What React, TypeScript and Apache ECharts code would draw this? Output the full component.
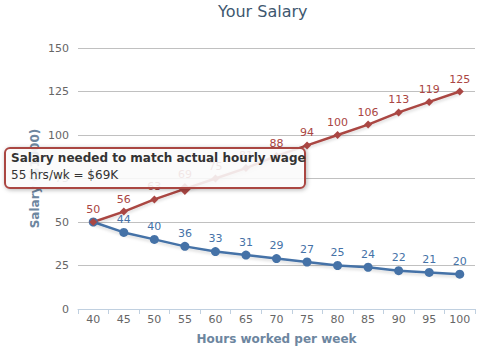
import React, { useEffect, useRef } from "react";
import * as echarts from "echarts";

const hours = ["40", "45", "50", "55", "60", "65", "70", "75", "80", "85", "90", "95", "100"];
const neededSalary = [50, 56, 63, 69, 75, 81, 88, 94, 100, 106, 113, 119, 125];
const actualSalary = [50, 44, 40, 36, 33, 31, 29, 27, 25, 24, 22, 21, 20];
const hoverIndex = 3;
const tooltipTitle = "Salary needed to match actual hourly wage";
const tooltipLine = `${hours[hoverIndex]} hrs/wk = $${neededSalary[hoverIndex]}K`;

const FONT = "DejaVu Sans";
const RED = "#AA4643";
const BLUE = "#4572A7";

export default function App() {
  const ref = useRef<HTMLDivElement>(null);
  useEffect(() => {
    if (!ref.current) return;
    document.body.style.margin = "0";
    const chart = echarts.init(ref.current, undefined, { renderer: "svg" });
    const labelBase = { show: true, position: "top", distance: 3, fontFamily: FONT, fontSize: 11 };
    chart.setOption({
      animation: false,
      backgroundColor: "#fff",
      title: {
        text: "Your Salary",
        left: 218,
        top: 3,
        padding: 0,
        textStyle: { color: "#3E576F", fontFamily: FONT, fontSize: 16, fontWeight: "normal" },
      },
      grid: { left: 78, right: 15, top: 48, bottom: 42, containLabel: false },
      xAxis: {
        type: "category",
        data: hours,
        boundaryGap: true,
        axisLine: { lineStyle: { color: "#C0D0E0", width: 1 } },
        axisTick: { show: true, length: 5, lineStyle: { color: "#C0D0E0" } },
        axisLabel: { color: "#666", fontFamily: FONT, fontSize: 11, margin: 5 },
        name: "Hours worked per week",
        nameLocation: "middle",
        nameGap: 24,
        nameTextStyle: { color: "#6D869F", fontFamily: FONT, fontSize: 12, fontWeight: "bold" },
      },
      yAxis: {
        type: "value",
        min: 0,
        max: 150,
        interval: 25,
        axisLine: { show: false },
        axisTick: { show: false },
        splitLine: { lineStyle: { color: "#C0C0C0", width: 1 } },
        axisLabel: { color: "#666", fontFamily: FONT, fontSize: 11, margin: 9 },
        name: "Salary ($1000)",
        nameLocation: "middle",
        nameGap: 43,
        nameRotate: 90,
        nameMoveOverlap: false,
        nameTextStyle: {
          color: "#6D869F",
          fontFamily: FONT,
          fontSize: 12,
          fontWeight: "bold",
          verticalAlign: "middle",
        },
      },
      series: [
        {
          type: "line",
          data: actualSalary.map((v, i) => (i === 0 ? { value: v, label: { show: false } } : v)),
          symbol: "circle",
          symbolSize: 9,
          showAllSymbol: true,
          itemStyle: { color: BLUE },
          lineStyle: {
            color: BLUE,
            width: 2.5,
            shadowColor: "rgba(0,0,0,0.15)",
            shadowBlur: 3,
            shadowOffsetY: 2,
          },
          label: { ...labelBase, color: BLUE },
        },
        {
          type: "line",
          data: neededSalary.map((v, i) => (i === hoverIndex ? { value: v, symbolSize: 12 } : v)),
          symbol: "diamond",
          symbolSize: 8,
          showAllSymbol: true,
          itemStyle: { color: RED },
          lineStyle: {
            color: RED,
            width: 2.5,
            shadowColor: "rgba(0,0,0,0.15)",
            shadowBlur: 3,
            shadowOffsetY: 2,
          },
          label: { ...labelBase, color: RED },
        },
      ],
      graphic: [
        {
          type: "group",
          z: 100,
          children: [
            {
              type: "rect",
              z: 100,
              shape: { x: 5, y: 148, width: 300, height: 40, r: 5 },
              style: {
                fill: "rgba(255,255,255,0.85)",
                stroke: RED,
                lineWidth: 2,
                shadowBlur: 4,
                shadowColor: "rgba(0,0,0,0.3)",
                shadowOffsetX: 1,
                shadowOffsetY: 1,
              },
            },
            {
              type: "text",
              z: 101,
              x: 11,
              y: 152,
              style: { text: tooltipTitle, fontFamily: FONT, fontSize: 12, fontWeight: "bold", fill: "#333" },
            },
            {
              type: "text",
              z: 101,
              x: 11,
              y: 169,
              style: { text: tooltipLine, fontFamily: FONT, fontSize: 12, fill: "#333" },
            },
          ],
        },
      ],
    });
    return () => chart.dispose();
  }, []);
  return <div ref={ref} style={{ width: 490, height: 351 }} />;
}
